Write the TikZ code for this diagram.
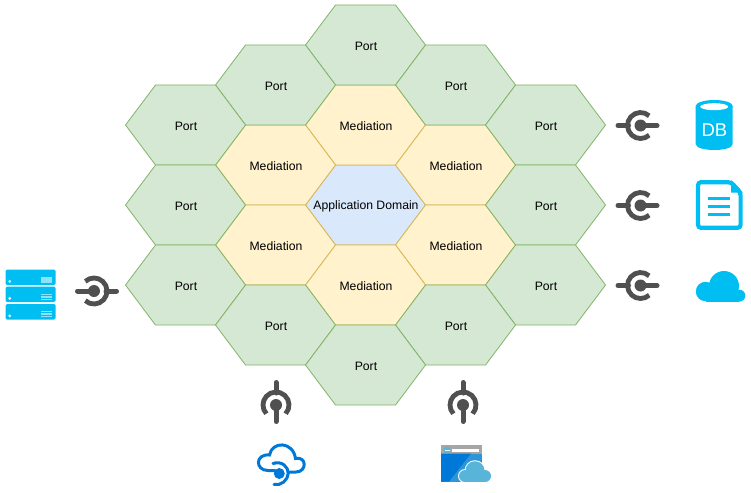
\documentclass[tikz,border=0pt]{standalone}
\usepackage{fontspec}
\setmainfont{Liberation Sans}
\usetikzlibrary{calc}
\definecolor{portfill}{HTML}{D5E8D4}
\definecolor{portline}{HTML}{82B366}
\definecolor{medfill}{HTML}{FFF2CC}
\definecolor{medline}{HTML}{D6B656}
\definecolor{appfill}{HTML}{DAE8FC}
\definecolor{plugcol}{HTML}{505050}
\definecolor{skyblue}{HTML}{00BEF2}
\definecolor{azureblue}{HTML}{0078D7}
\definecolor{lightcloud}{HTML}{59B4D9}
\tikzset{
	port/.style={fill=portfill, draw=portline, line width=0.8pt},
	mediation/.style={fill=medfill, draw=medline, line width=0.8pt},
	appdomain/.style={fill=appfill, draw=medline, line width=0.8pt},
	hexlabel/.style={font=\fontsize{12.2}{14}\selectfont, inner sep=0pt}
}
% hexagon with its label: style, name, centre, text
\def\hexcell[#1](#2)(#3,#4)#5{
	\draw[#1] (#3-60.5, #4) -- (#3-30.5, #4-40) -- (#3+29.5, #4-40) -- (#3+59.5, #4) -- (#3+29.5, #4+40) -- (#3-30.5, #4+40) -- cycle;
	\node[hexlabel] (#2) at (#3, #4+1) {#5};
}
% plug symbol: ball centre and turn
\def\plugsym(#1,#2)(#3){
	\begin{scope}[shift={(#1,#2)}, rotate=#3, x=1pt, y=1pt, draw=plugcol, line cap=round]
		\draw[line width=5pt] (-22.5, 0) -- (-12, 0);
		\draw[line width=5pt] (0, 0) -- (16.5, 0);
		\fill[plugcol] (0, 0) circle (6);
		\draw[line width=4.8pt, line cap=butt] (48:13) arc (48:312:13);
	\end{scope}
}
\begin{document}
\begin{tikzpicture}[x=1pt, y=-1pt]
	%%%%% START %%%%%
	\useasboundingbox (0, 0) rectangle (751, 492);

	\hexcell[appdomain](appdom)(366, 205){Application Domain}

	\hexcell[mediation](medtop)(366, 125){Mediation}
	\hexcell[mediation](mednw)(276, 165){Mediation}
	\hexcell[mediation](medne)(456, 165){Mediation}
	\hexcell[mediation](medsw)(276, 245){Mediation}
	\hexcell[mediation](medse)(456, 245){Mediation}
	\hexcell[mediation](medbot)(366, 285){Mediation}

	\hexcell[port](porttop)(366, 45){Port}
	\hexcell[port](portnw)(276, 85){Port}
	\hexcell[port](portne)(456, 85){Port}
	\hexcell[port](portwa)(186, 125){Port}
	\hexcell[port](portea)(546, 125){Port}
	\hexcell[port](portwb)(186, 205){Port}
	\hexcell[port](porteb)(546, 205){Port}
	\hexcell[port](portwc)(186, 285){Port}
	\hexcell[port](portec)(546, 285){Port}
	\hexcell[port](portsw)(276, 325){Port}
	\hexcell[port](portse)(456, 325){Port}
	\hexcell[port](portbot)(366, 365){Port}

	\plugsym(640.5, 125.5)(0)
	\plugsym(640.5, 205.5)(0)
	\plugsym(640.5, 285.5)(0)
	\plugsym(94, 291)(180)
	\plugsym(276, 405)(-90)
	\plugsym(463, 405)(-90)

	% server rack
	\foreach \ytop/\ybot in {269.5/285, 286.5/302, 304/319.5}{
		\fill[skyblue, rounded corners=1.5pt] (5.5, \ytop) rectangle (55.7, \ybot);
		\fill[white] (9.7, \ybot-3.7) circle (1.5);
	}
	\fill[white!55!skyblue] (41.3, 277.3) rectangle (52, 282.7);
	\foreach \yy in {294.5, 297, 299.5, 311.5, 314, 316.5}{
		\draw[white!55!skyblue, line width=1.2pt] (41.3, \yy) -- (52, \yy);
	}

	% database
	\fill[skyblue] (695.7, 106) -- (732.7, 106) -- (732.7, 144) .. controls (732.7, 152) and (695.7, 152) .. (695.7, 144) -- cycle;
	\fill[skyblue] (714.2, 106) ellipse (18.5 and 6);
	\fill[white] (714.2, 106.7) ellipse (14 and 3.5);
	\node[text=white, font=\fontsize{18.5}{20}\selectfont, inner sep=0pt] (dbtext) at (714.4, 129.7) {DB};

	% document
	\draw[skyblue, line width=4.2pt, rounded corners=3pt, fill=white] (698, 182.2) -- (731, 182.2) -- (740.6, 192.5) -- (740.6, 227.8) -- (698, 227.8) -- cycle;
	\fill[skyblue] (731, 180) -- (742.7, 192.5) -- (731, 192.5) -- cycle;
	\foreach \yy in {198.3, 206.3, 214.3}{
		\draw[skyblue, line width=3.6pt] (707.5, \yy) -- (730, \yy);
	}

	% cloud
	\fill[skyblue] (705.5, 291.5) circle (9.7);
	\fill[skyblue] (724, 286) circle (15);
	\fill[skyblue] (739.3, 295.7) circle (6);
	\fill[skyblue] (705.5, 290) rectangle (739.3, 301.7);

	% cloud service
	\begin{scope}[azureblue, line width=3pt, line cap=round]
		\draw (275, 470.5) -- (268, 470.5) .. controls (255, 470.5) and (255, 453.5) .. (269.5, 455) .. controls (272, 441) and (293, 441) .. (295.5, 458.5) .. controls (307, 456) and (307, 472) .. (296, 472) -- (289, 472);
		\fill (279.3, 473.5) circle (5.5);
		\draw (273, 463.5) .. controls (282, 460.5) and (288.5, 467) .. (288.2, 473.5) .. controls (288, 480) and (281, 486) .. (274, 484.5);
	\end{scope}

	% web app with cloud
	\fill[black!35] (441, 445) rectangle (481.7, 454);
	\fill[lightcloud!50!azureblue] (441, 453.5) rectangle (481.7, 481.5);
	\fill[azureblue] (441, 481.5) -- (441, 453.5) -- (471, 453.5) -- (449, 481.5) -- cycle;
	\fill[white] (451.7, 448.7) rectangle (479, 452);
	\fill[lightcloud] (447, 450) circle (3.5);
	\draw[white, line width=0.8pt] (445, 450) -- (449.5, 450);
	\fill[white] (465, 476) circle (7);
	\fill[white] (475, 470.7) circle (10.5);
	\fill[lightcloud] (465, 476) circle (6);
	\fill[lightcloud] (475, 470.7) circle (9.5);
	\fill[lightcloud] (485, 476) circle (6);
	\fill[lightcloud] (465, 474) rectangle (485, 482);
	%%%%% END %%%%%
\end{tikzpicture}
\end{document}
